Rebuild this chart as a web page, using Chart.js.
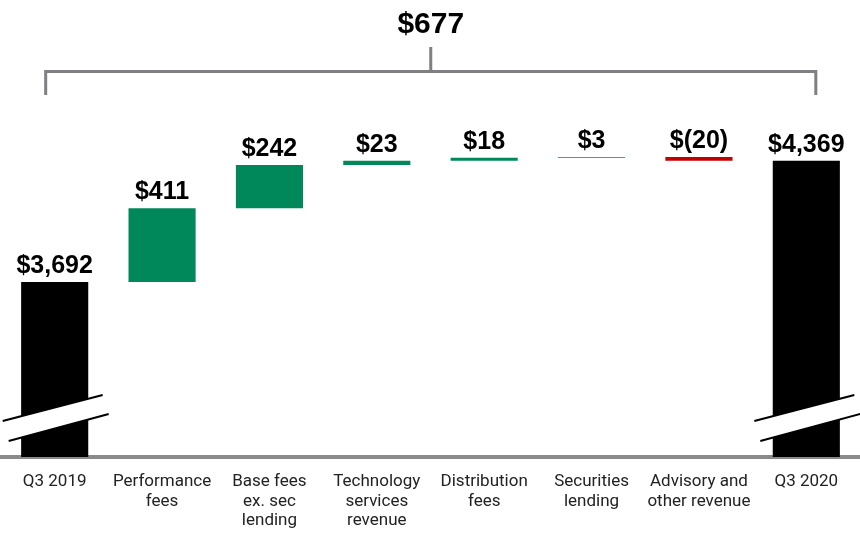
<!DOCTYPE html>
<html>
<head>
<meta charset="utf-8">
<script src="https://cdn.jsdelivr.net/npm/chart.js@4.4.1/dist/chart.umd.min.js"></script>
<style>
  html, body { margin: 0; padding: 0; background: #fff; }
  #wrap { width: 860px; height: 535px; }
</style>
</head>
<body>
<div id="wrap"><canvas id="c" width="860" height="535"></canvas></div>
<script>
// revenue bridge, Q3 2019 -> Q3 2020 ($ millions)
var categories = [
  ['Q3 2019'],
  ['Performance', 'fees'],
  ['Base fees', 'ex. sec', 'lending'],
  ['Technology', 'services', 'revenue'],
  ['Distribution', 'fees'],
  ['Securities', 'lending'],
  ['Advisory and', 'other revenue'],
  ['Q3 2020']
];
var startValue = 3692;
var changes = [411, 242, 23, 18, 3, -20];
var endValue = 4369;

// axis is broken, so it does not start at zero
var Y_MIN = 2714;
var Y_MAX = 4708;

var GREEN = '#00875a';
var RED = '#c00000';
var GREY = '#7f7f84';

// build floating bars from the running total
var ranges = [[Y_MIN, startValue]];
var values = [startValue];
var colors = ['#000'];
var running = startValue;
for (var i = 0; i < changes.length; i++) {
  ranges.push([running, running + changes[i]]);
  values.push(changes[i]);
  colors.push(changes[i] < 0 ? RED : GREEN);
  running += changes[i];
}
ranges.push([Y_MIN, endValue]);
values.push(endValue);
colors.push('#000');

function fmt(v) {
  var s = Math.abs(v).toLocaleString('en-US');
  return v < 0 ? '$(' + s + ')' : '$' + s;
}

// value labels above each bar
var valueLabels = {
  id: 'valueLabels',
  afterDatasetsDraw: function(chart) {
    var ctx = chart.ctx;
    var y = chart.scales.y;
    var meta = chart.getDatasetMeta(0);
    ctx.save();
    ctx.font = 'bold 25px "Liberation Sans", Arial, sans-serif';
    ctx.fillStyle = '#000';
    ctx.textAlign = 'center';
    ctx.textBaseline = 'alphabetic';
    meta.data.forEach(function(bar, i) {
      var top = y.getPixelForValue(Math.max(ranges[i][0], ranges[i][1]));
      ctx.fillText(fmt(values[i]), bar.x, top - 9);
    });
    ctx.restore();
  }
};

// axis break marks on the two total bars + bracket with total change
var decorations = {
  id: 'decorations',
  afterDatasetsDraw: function(chart) {
    var ctx = chart.ctx;
    var meta = chart.getDatasetMeta(0);
    var bottom = chart.chartArea.bottom;
    ctx.save();
    [0, meta.data.length - 1].forEach(function(i) {
      var x = meta.data[i].x;
      ctx.fillStyle = '#fff';
      ctx.beginPath();
      ctx.moveTo(x - 52, bottom - 36);
      ctx.lineTo(x + 48, bottom - 62);
      ctx.lineTo(x + 54, bottom - 43);
      ctx.lineTo(x - 46, bottom - 16);
      ctx.closePath();
      ctx.fill();
      ctx.strokeStyle = '#000';
      ctx.lineWidth = 2;
      ctx.beginPath();
      ctx.moveTo(x - 52, bottom - 36);
      ctx.lineTo(x + 48, bottom - 62);
      ctx.moveTo(x - 46, bottom - 16);
      ctx.lineTo(x + 54, bottom - 43);
      ctx.stroke();
    });

    var left = meta.data[0].x - 9;
    var right = meta.data[meta.data.length - 1].x + 9.5;
    var mid = (left + right) / 2;
    ctx.strokeStyle = GREY;
    ctx.lineWidth = 3;
    ctx.lineCap = 'butt';
    ctx.beginPath();
    ctx.moveTo(left, 95);
    ctx.lineTo(left, 71.5);
    ctx.lineTo(right, 71.5);
    ctx.lineTo(right, 95);
    ctx.moveTo(mid, 71.5);
    ctx.lineTo(mid, 47);
    ctx.stroke();

    ctx.fillStyle = '#000';
    ctx.font = 'bold 30px "Liberation Sans", Arial, sans-serif';
    ctx.textAlign = 'center';
    ctx.textBaseline = 'alphabetic';
    ctx.fillText(fmt(endValue - startValue), mid, 33);
    ctx.restore();
  }
};

new Chart(document.getElementById('c'), {
  type: 'bar',
  data: {
    labels: categories,
    datasets: [{
      data: ranges,
      backgroundColor: colors,
      borderWidth: 0,
      borderSkipped: false,
      categoryPercentage: 1,
      barPercentage: 0.625
    }]
  },
  options: {
    responsive: false,
    animation: false,
    events: [],
    layout: { padding: { top: 100, left: 1, right: 0, bottom: 0 } },
    plugins: {
      legend: { display: false },
      tooltip: { enabled: false }
    },
    scales: {
      x: {
        grid: { display: false, drawTicks: false },
        border: { display: true, color: '#8a8a8a', width: 4 },
        ticks: {
          color: '#222',
          padding: 15,
          maxRotation: 0,
          autoSkip: false,
          font: { family: 'Roboto, "Liberation Sans", sans-serif', size: 17, lineHeight: 1.15 }
        },
        afterFit: function(scale) { scale.height = 78; }
      },
      y: {
        display: false,
        min: Y_MIN,
        max: Y_MAX
      }
    }
  },
  plugins: [valueLabels, decorations]
});
</script>
</body>
</html>
